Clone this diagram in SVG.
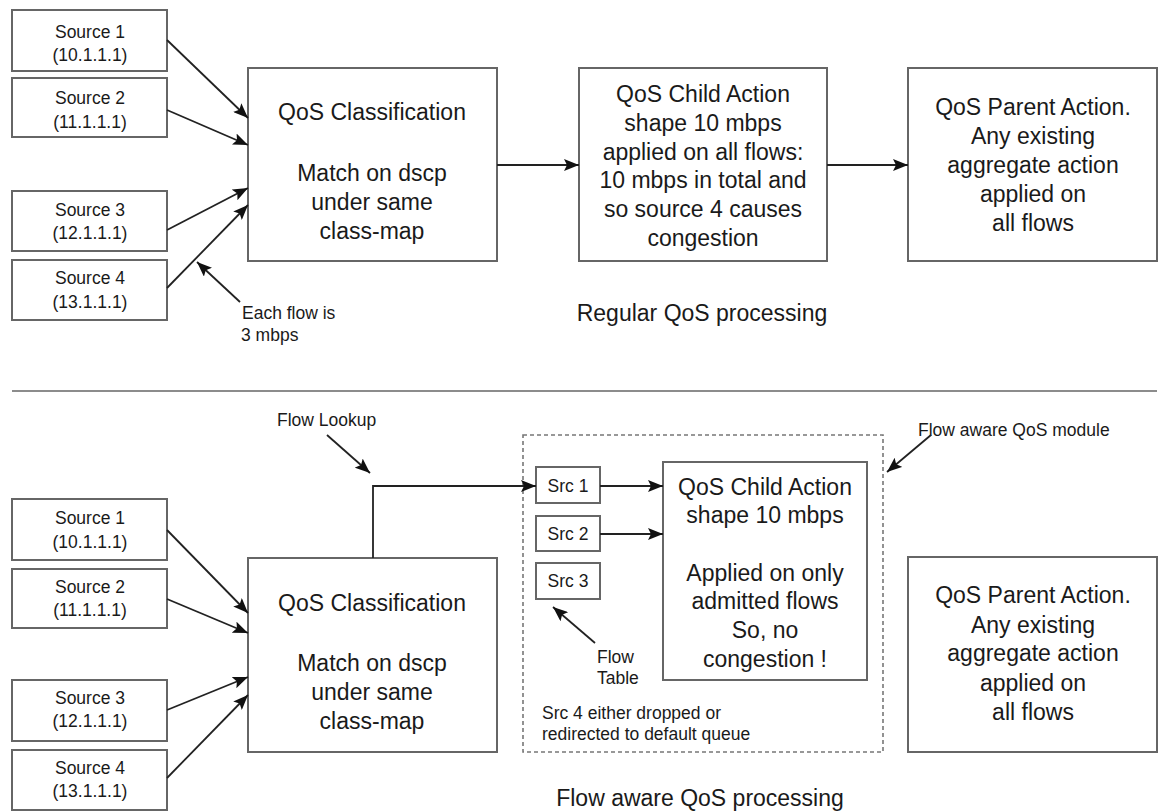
<svg xmlns="http://www.w3.org/2000/svg" width="1162" height="811" viewBox="0 0 1162 811">
<defs>
<style>
.box{fill:#fff;stroke:#666;stroke-width:2}
.dash{fill:none;stroke:#777;stroke-width:1.6;stroke-dasharray:4 3}
.ln{fill:none;stroke:#222;stroke-width:1.8}
.div{stroke:#666;stroke-width:1.6}
.big{font-family:"Liberation Sans",Arial,sans-serif;font-size:23px;fill:#1a1a1a;text-anchor:middle}
.sm{font-family:"Liberation Sans",Arial,sans-serif;font-size:17.5px;fill:#1a1a1a}
.smc{font-family:"Liberation Sans",Arial,sans-serif;font-size:17.5px;fill:#1a1a1a;text-anchor:middle}
</style>
<marker id="ah" markerUnits="userSpaceOnUse" markerWidth="16" markerHeight="12" refX="15" refY="6" orient="auto">
<path d="M0,0 L15,6 L0,12 L3,6 z" fill="#111"/>
</marker>
</defs>
<rect width="1162" height="811" fill="#fff"/>

<!-- Top section nodes -->
<g id="t-src1"><rect class="box" x="12" y="10" width="155" height="61"/><text class="smc" x="90" y="38">Source 1</text><text class="smc" x="90" y="61">(10.1.1.1)</text></g>
<g id="t-src2"><rect class="box" x="12" y="78" width="155" height="59"/><text class="smc" x="90" y="104">Source 2</text><text class="smc" x="90" y="128">(11.1.1.1)</text></g>
<g id="t-src3"><rect class="box" x="12" y="191" width="155" height="60"/><text class="smc" x="90" y="216">Source 3</text><text class="smc" x="90" y="239">(12.1.1.1)</text></g>
<g id="t-src4"><rect class="box" x="12" y="260" width="155" height="60"/><text class="smc" x="90" y="284">Source 4</text><text class="smc" x="90" y="308">(13.1.1.1)</text></g>
<g id="t-class"><rect class="box" x="248" y="68" width="249" height="193"/>
<text class="big" x="372" y="120">QoS Classification</text>
<text class="big" x="372" y="181">Match on dscp</text>
<text class="big" x="372" y="210">under same</text>
<text class="big" x="372" y="239">class-map</text></g>
<g id="t-child"><rect class="box" x="579" y="68" width="248" height="193"/>
<text class="big" x="703" y="102">QoS Child Action</text>
<text class="big" x="703" y="131">shape 10 mbps</text>
<text class="big" x="703" y="160">applied on all flows:</text>
<text class="big" x="703" y="188">10 mbps in total and</text>
<text class="big" x="703" y="217">so source 4 causes</text>
<text class="big" x="703" y="246">congestion</text></g>
<g id="t-parent"><rect class="box" x="908" y="68" width="249" height="193"/>
<text class="big" x="1033" y="115">QoS Parent Action.</text>
<text class="big" x="1033" y="144">Any existing</text>
<text class="big" x="1033" y="173">aggregate action</text>
<text class="big" x="1033" y="202">applied on</text>
<text class="big" x="1033" y="231">all flows</text></g>
<g id="t-note"><text class="sm" x="242" y="319">Each flow is</text><text class="sm" x="241" y="341">3 mbps</text></g>
<g id="t-title"><text class="big" x="702" y="321">Regular QoS processing</text></g>

<line class="div" x1="12" y1="391" x2="1157" y2="391"/>

<!-- Bottom section nodes -->
<g id="b-module"><rect class="dash" x="523" y="435" width="360" height="317"/></g>
<g id="b-src1"><rect class="box" x="12" y="499" width="155" height="61"/><text class="smc" x="90" y="524">Source 1</text><text class="smc" x="90" y="548">(10.1.1.1)</text></g>
<g id="b-src2"><rect class="box" x="12" y="569" width="155" height="59"/><text class="smc" x="90" y="593">Source 2</text><text class="smc" x="90" y="616">(11.1.1.1)</text></g>
<g id="b-src3"><rect class="box" x="12" y="680" width="155" height="61"/><text class="smc" x="90" y="704">Source 3</text><text class="smc" x="90" y="727">(12.1.1.1)</text></g>
<g id="b-src4"><rect class="box" x="12" y="750" width="155" height="60"/><text class="smc" x="90" y="774">Source 4</text><text class="smc" x="90" y="797">(13.1.1.1)</text></g>
<g id="b-class"><rect class="box" x="248" y="558" width="249" height="194"/>
<text class="big" x="372" y="611">QoS Classification</text>
<text class="big" x="372" y="671">Match on dscp</text>
<text class="big" x="372" y="700">under same</text>
<text class="big" x="372" y="729">class-map</text></g>
<g id="b-s1"><rect class="box" x="536" y="467" width="64" height="36"/><text class="smc" x="568" y="492">Src 1</text></g>
<g id="b-s2"><rect class="box" x="536" y="516" width="64" height="35"/><text class="smc" x="568" y="540">Src 2</text></g>
<g id="b-s3"><rect class="box" x="536" y="563" width="64" height="36"/><text class="smc" x="568" y="587">Src 3</text></g>
<g id="b-child"><rect class="box" x="663" y="462" width="204" height="218"/>
<text class="big" x="765" y="495">QoS Child Action</text>
<text class="big" x="765" y="523">shape 10 mbps</text>
<text class="big" x="765" y="581">Applied on only</text>
<text class="big" x="765" y="609">admitted flows</text>
<text class="big" x="765" y="638">So, no</text>
<text class="big" x="765" y="667">congestion !</text></g>
<g id="b-parent"><rect class="box" x="908" y="557" width="249" height="195"/>
<text class="big" x="1033" y="603">QoS Parent Action.</text>
<text class="big" x="1033" y="633">Any existing</text>
<text class="big" x="1033" y="661">aggregate action</text>
<text class="big" x="1033" y="691">applied on</text>
<text class="big" x="1033" y="720">all flows</text></g>
<g id="b-lookup"><text class="sm" x="277" y="426">Flow Lookup</text></g>
<g id="b-modlabel"><text class="sm" x="918" y="436">Flow aware QoS module</text></g>
<g id="b-table"><text class="sm" x="597" y="663">Flow</text><text class="sm" x="597" y="684">Table</text></g>
<g id="b-drop"><text class="sm" x="542" y="719">Src 4 either dropped or</text><text class="sm" x="542" y="740">redirected to default queue</text></g>
<g id="b-title"><text class="big" x="700" y="806">Flow aware QoS processing</text></g>

<!-- Connectors -->
<g id="connectors">
<line class="ln" x1="167" y1="40" x2="248" y2="118" marker-end="url(#ah)"/>
<line class="ln" x1="167" y1="110" x2="248" y2="145" marker-end="url(#ah)"/>
<line class="ln" x1="167" y1="230" x2="248" y2="188" marker-end="url(#ah)"/>
<line class="ln" x1="167" y1="288" x2="248" y2="205" marker-end="url(#ah)"/>
<line class="ln" x1="240" y1="302" x2="197" y2="262" marker-end="url(#ah)"/>
<line class="ln" x1="497" y1="165" x2="579" y2="165" marker-end="url(#ah)"/>
<line class="ln" x1="827" y1="165" x2="908" y2="165" marker-end="url(#ah)"/>

<line class="ln" x1="167" y1="530" x2="248" y2="613" marker-end="url(#ah)"/>
<line class="ln" x1="167" y1="599" x2="248" y2="633" marker-end="url(#ah)"/>
<line class="ln" x1="167" y1="710" x2="248" y2="677" marker-end="url(#ah)"/>
<line class="ln" x1="167" y1="778" x2="248" y2="695" marker-end="url(#ah)"/>
<line class="ln" x1="327" y1="435" x2="370" y2="473" marker-end="url(#ah)"/>
<polyline class="ln" points="373,558 373,486 536,486" marker-end="url(#ah)"/>
<line class="ln" x1="600" y1="486" x2="663" y2="486" marker-end="url(#ah)"/>
<line class="ln" x1="600" y1="534" x2="663" y2="534" marker-end="url(#ah)"/>
<line class="ln" x1="595" y1="643" x2="553" y2="607" marker-end="url(#ah)"/>
<line class="ln" x1="931" y1="435" x2="887" y2="472" marker-end="url(#ah)"/>
</g>
</svg>
